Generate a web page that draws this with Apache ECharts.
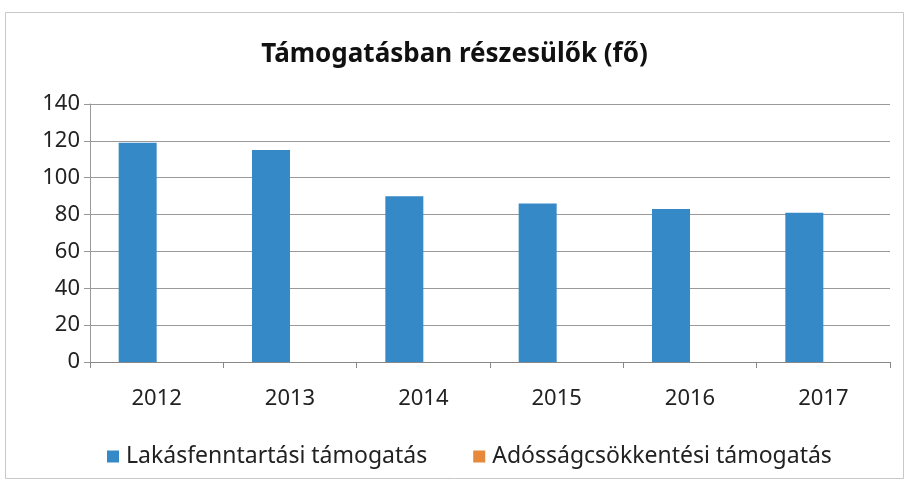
<!DOCTYPE html>
<html>
<head>
<meta charset="utf-8">
<script src="https://cdn.jsdelivr.net/npm/echarts@6/dist/echarts.min.js"></script>
<style>
  html, body { margin: 0; padding: 0; background: #fff; }
  #chart { width: 909px; height: 489px; }
</style>
</head>
<body>
<div id="chart"></div>
<script>
// adatok
var years = ['2012', '2013', '2014', '2015', '2016', '2017'];
var lakasfenntartasi = [119, 115, 90, 86, 83, 81];
var adossagcsokkentesi = [0, 0, 0, 0, 0, 0];
var seriesNames = ['Lakásfenntartási támogatás', 'Adósságcsökkentési támogatás'];

var font = "'Noto Sans', sans-serif";

var chart = echarts.init(document.getElementById('chart'));
var option = {
  animation: false,
  title: {
    text: 'Támogatásban részesülők (fő)',
    left: 'center',
    top: 37,
    textStyle: { fontFamily: font, fontSize: 26, fontWeight: 'bold', color: '#111' }
  },
  legend: {
    bottom: 16,
    left: 102,
    itemWidth: 12,
    itemHeight: 12,
    itemGap: 46,
    icon: 'rect',
    textStyle: { fontFamily: font, fontSize: 23, color: '#222', padding: [0, 0, 0, 2] },
    data: seriesNames
  },
  grid: { left: 90, right: 19, top: 104, bottom: 127 },
  xAxis: {
    type: 'category',
    data: years,
    axisLine: { lineStyle: { color: '#888', width: 1 } },
    axisTick: { show: true, length: 6, lineStyle: { color: '#888' } },
    axisLabel: { fontFamily: font, fontSize: 22, color: '#222', margin: 26 }
  },
  yAxis: {
    type: 'value',
    min: 0,
    max: 140,
    interval: 20,
    axisLine: { show: true, lineStyle: { color: '#999', width: 1 } },
    axisTick: { show: true, length: 6, lineStyle: { color: '#999' } },
    axisLabel: { fontFamily: font, fontSize: 22, color: '#222', margin: 10 },
    splitLine: { lineStyle: { color: '#9a9a9a', width: 1 } }
  },
  series: [
    {
      name: seriesNames[0],
      type: 'bar',
      barWidth: 38,
      barGap: '0%',
      itemStyle: { color: '#3589c6' },
      data: lakasfenntartasi
    },
    {
      name: seriesNames[1],
      type: 'bar',
      barWidth: 38,
      itemStyle: { color: '#e8883a' },
      data: adossagcsokkentesi
    }
  ],
  graphic: [
    {
      type: 'rect',
      shape: { x: 5.5, y: 12.5, width: 898, height: 466 },
      style: { fill: 'none', stroke: '#c8c8c8', lineWidth: 1 },
      silent: true
    }
  ]
};
chart.setOption(option);
</script>
</body>
</html>
